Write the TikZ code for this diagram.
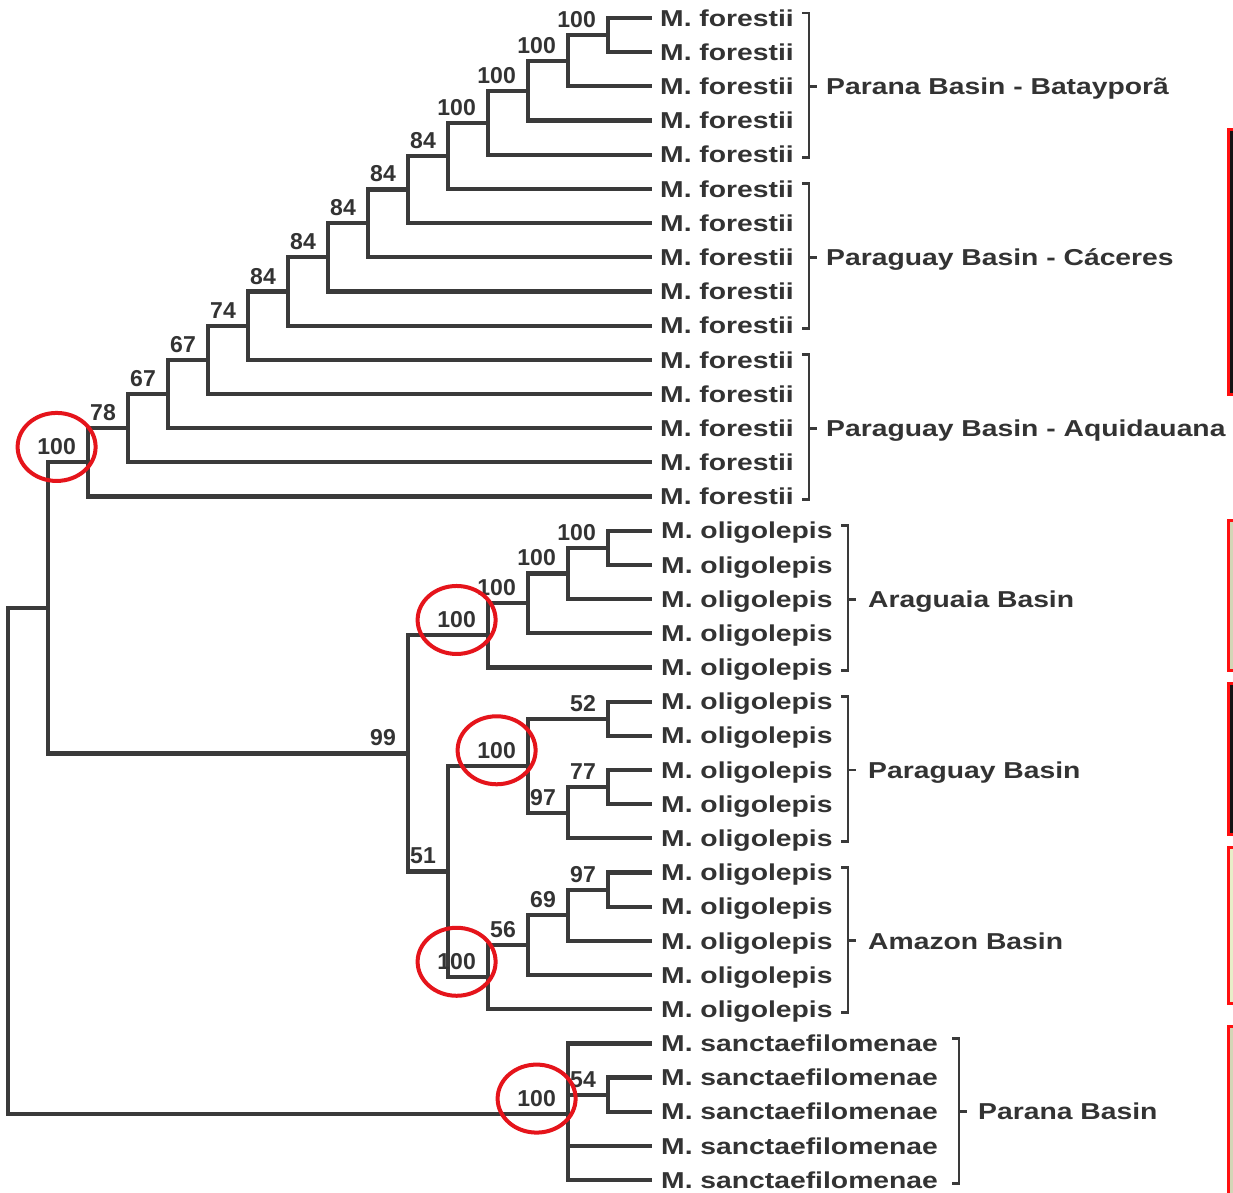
\documentclass[tikz,border=0pt]{standalone}
\usepackage{fontspec}
\newfontfamily\txfam{Liberation Sans}[FakeStretch=1.23]
\newfontfamily\nmfam{Liberation Sans}
\definecolor{ink}{HTML}{3A3A3A}
\definecolor{txt}{HTML}{333333}
\definecolor{circ}{HTML}{E5141B}
\definecolor{barred}{HTML}{FF1010}
\definecolor{barblack}{HTML}{141414}
\definecolor{khaki}{HTML}{D3D6B6}
\definecolor{pale}{HTML}{E8EEC8}
\begin{document}
\begin{tikzpicture}[x=1pt,y=-1pt,
  branch/.style={draw=ink,line width=4.2pt,line join=miter},
  taxon/.style={anchor=base west,inner sep=0pt,text=txt,font=\txfam\bfseries\fontsize{23}{27}\selectfont},
  grp/.style={taxon},
  boot/.style={anchor=base east,inner sep=0pt,text=txt,font=\nmfam\bfseries\fontsize{23}{27}\selectfont},
  brk/.style={draw=ink,line width=2.9pt,line join=miter},
  ring/.style={draw=circ,line width=4pt},
  bar/.style={draw=barred,line width=3pt}]
\clip (0,0) rectangle (1233,1192);
\fill[white] (0,0) rectangle (1233,1192);

% leaves
\foreach \i in {0,...,14}{
  \coordinate (t\i) at (652,{18+34.18*\i});
  \node[taxon] (n\i) at (660,{18+34.18*\i+8.2}) {M. forestii};
}
\foreach \i in {15,...,29}{
  \coordinate (t\i) at (652,{18+34.18*\i});
  \node[taxon] (n\i) at (661,{18+34.18*\i+8.2}) {M. oligolepis};
}
\foreach \i in {30,...,34}{
  \coordinate (t\i) at (652,{18+34.18*\i});
  \node[taxon] (n\i) at (661,{18+34.18*\i+8.2}) {M. sanctaefilomenae};
}

% internal nodes
\coordinate (A) at (608,35.09);
\coordinate (B) at (568,60.73);
\coordinate (C) at (528,90.63);
\coordinate (D) at (488,122.68);
\coordinate (E) at (448,155.79);
\coordinate (F) at (408,189.43);
\coordinate (G) at (368,223.35);
\coordinate (H) at (328,257.39);
\coordinate (I) at (288,291.51);
\coordinate (J) at (248,325.65);
\coordinate (K) at (208,359.81);
\coordinate (L) at (168,393.99);
\coordinate (M) at (128,428.16);
\coordinate (N) at (88,462.34);
\coordinate (a1) at (608,547.79);
\coordinate (a2) at (568,573.43);
\coordinate (a3) at (528,603.33);
\coordinate (a4) at (488,635.38);
\coordinate (p1) at (608,718.69);
\coordinate (p2) at (608,787.05);
\coordinate (p3) at (568,812.69);
\coordinate (p4) at (528,765.69);
\coordinate (m1) at (608,889.59);
\coordinate (m2) at (568,915.23);
\coordinate (m3) at (528,945.13);
\coordinate (m4) at (488,977.18);
\coordinate (n51) at (448,871.43);
\coordinate (n99) at (408,753.41);
\coordinate (R1) at (48,607.87);
\coordinate (s1) at (608,1094.67);
\coordinate (s0) at (568,1114);
\coordinate (R0) at (8,860.9);

% branches
\draw[branch] (A) |- (t0) (A) |- (t1) (B) |- (A) (B) |- (t2)
  (C) |- (B) (C) |- (t3) (D) |- (C) (D) |- (t4) (E) |- (D) (E) |- (t5)
  (F) |- (E) (F) |- (t6) (G) |- (F) (G) |- (t7) (H) |- (G) (H) |- (t8)
  (I) |- (H) (I) |- (t9) (J) |- (I) (J) |- (t10) (K) |- (J) (K) |- (t11)
  (L) |- (K) (L) |- (t12) (M) |- (L) (M) |- (t13) (N) |- (M) (N) |- (t14)
  (R1) |- (N) (R1) |- (n99) (R0) |- (R1) (R0) |- (s0);
\draw[branch] (a1) |- (t15) (a1) |- (t16) (a2) |- (a1) (a2) |- (t17)
  (a3) |- (a2) (a3) |- (t18) (a4) |- (a3) (a4) |- (t19)
  (n99) |- (a4) (n99) |- (n51)
  (p1) |- (t20) (p1) |- (t21) (p2) |- (t22) (p2) |- (t23)
  (p3) |- (p2) (p3) |- (t24) (p4) |- (p1) (p4) |- (p3)
  (n51) |- (p4) (n51) |- (m4)
  (m1) |- (t25) (m1) |- (t26) (m2) |- (m1) (m2) |- (t27)
  (m3) |- (m2) (m3) |- (t28) (m4) |- (m3) (m4) |- (t29);
\draw[branch] (s1) |- (t31) (s1) |- (t32) (s0) |- (t30) (s0) |- (s1)
  (s0) |- (t33) (s0) |- (t34);

% support values
\foreach \nd/\v in {A/100,B/100,C/100,D/100,E/84,F/84,G/84,H/84,I/84,J/74,K/67,L/67,M/78,N/100,
  a1/100,a2/100,a3/100,a4/100,p1/52,p2/77,p3/97,p4/100,m1/97,m2/69,m3/56,m4/100,n51/51,n99/99,s1/54,s0/100}{
  \node[boot] (b-\nd) at ([shift={(-12,-7.5)}]\nd) {\v};
}

% brackets
\draw[brk] (802,13) -- (809,13) -- (809,157.7) -- (802,157.7);
\draw[brk] (809,86.36) -- (817,86.36);
\draw[brk] (802,183.9) -- (809,183.9) -- (809,328.6) -- (802,328.6);
\draw[brk] (809,257.26) -- (817,257.26);
\draw[brk] (802,354.8) -- (809,354.8) -- (809,499.5) -- (802,499.5);
\draw[brk] (809,428.16) -- (817,428.16);
\draw[brk] (841,525.7) -- (848,525.7) -- (848,670.4) -- (841,670.4);
\draw[brk] (848,599.06) -- (856,599.06);
\draw[brk] (841,696.6) -- (848,696.6) -- (848,841.3) -- (841,841.3);
\draw[brk] (848,769.96) -- (856,769.96);
\draw[brk] (841,867.5) -- (848,867.5) -- (848,1012.2) -- (841,1012.2);
\draw[brk] (848,940.86) -- (856,940.86);
\draw[brk] (952,1038.4) -- (959,1038.4) -- (959,1183.1) -- (952,1183.1);
\draw[brk] (959,1111.76) -- (967,1111.76);

% group labels
\node[grp] (g1) at (826,94.56) {Parana Basin - Batayporã};
\node[grp] (g2) at (826,265.46) {Paraguay Basin - Cáceres};
\node[grp] (g3) at (826,436.36) {Paraguay Basin - Aquidauana};
\node[grp] (g4) at (868,607.26) {Araguaia Basin};
\node[grp] (g5) at (868,778.16) {Paraguay Basin};
\node[grp] (g6) at (868,949.06) {Amazon Basin};
\node[grp] (g7) at (978,1119.96) {Parana Basin};

% red circles
\foreach \nd in {N,a4,p4,m4,s0}{
  \draw[ring] (b-\nd.center) ellipse [x radius=39,y radius=34];
}

% side bars
\draw[bar,fill=barblack] (1228.5,129.5) rectangle (1260,394.5);
\draw[bar,fill=khaki] (1228.5,520) rectangle (1260,670);
\draw[bar,fill=barblack] (1228.5,683) rectangle (1260,834);
\draw[bar,fill=pale] (1228.5,847) rectangle (1260,1003);
\draw[bar,fill=khaki] (1228.5,1026) rectangle (1260,1210);
\end{tikzpicture}
\end{document}
